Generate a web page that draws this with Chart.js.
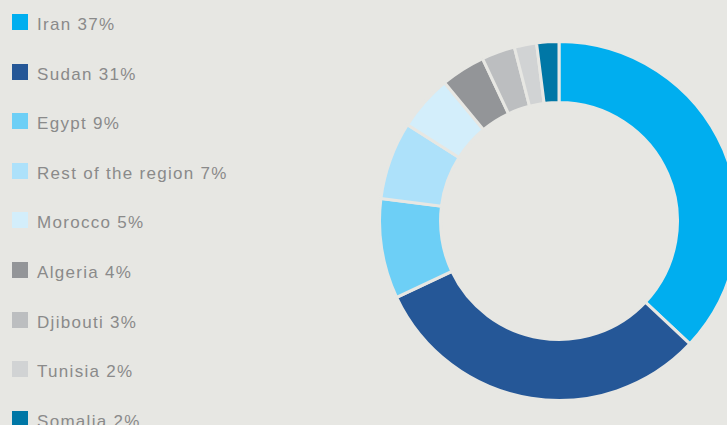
<!DOCTYPE html>
<html>
<head>
<meta charset="utf-8">
<script src="https://cdn.jsdelivr.net/npm/chart.js@4/dist/chart.umd.min.js"></script>
<style>
  html, body { margin:0; padding:0; }
  body { width:727px; height:425px; overflow:hidden; background:#E7E7E3; position:relative;
         font-family:"Liberation Sans", Arial, sans-serif; }
  #wrap { position:absolute; left:378px; top:40px; width:362px; height:362px; }
  .lg { position:absolute; left:12px; height:16px; }
  .lg .box { position:absolute; left:0; top:0; width:16px; height:16px; }
  .lg .txt { position:absolute; left:25px; top:3px; white-space:nowrap; font-size:17px; line-height:16px;
             color:#8A8A8A; letter-spacing:1.3px; }
</style>
</head>
<body>
<div id="legend"></div>
<div id="wrap"><canvas id="c" width="362" height="362"></canvas></div>
<script>
const categories = ["Iran", "Sudan", "Egypt", "Rest of the region", "Morocco", "Algeria", "Djibouti", "Tunisia", "Somalia"];
const shares = [37, 31, 9, 7, 5, 4, 3, 2, 2];
const colors = ["#00AEEF", "#255797", "#6DCFF6", "#ADE1FA", "#D3EEFB", "#939598", "#BCBEC0", "#D1D3D4", "#0077A6"];
const bg = "#E7E7E3";

const legend = document.getElementById("legend");
categories.forEach((name, i) => {
  const d = document.createElement("div");
  d.className = "lg";
  d.style.top = (14 + i * 49.6) + "px";
  const b = document.createElement("div");
  b.className = "box"; b.style.background = colors[i];
  const t = document.createElement("div");
  t.className = "txt"; t.textContent = name + " " + shares[i] + "%";
  d.appendChild(b); d.appendChild(t);
  legend.appendChild(d);
});

new Chart(document.getElementById("c"), {
  type: "doughnut",
  data: {
    labels: categories,
    datasets: [{
      data: shares,
      backgroundColor: colors,
      borderColor: bg,
      borderWidth: 3,
      borderJoinStyle: "miter"
    }]
  },
  options: {
    responsive: false,
    animation: false,
    cutout: "66%",
    layout: { padding: 0 },
    plugins: { legend: { display: false }, tooltip: { enabled: false } }
  }
});
</script>
</body>
</html>
